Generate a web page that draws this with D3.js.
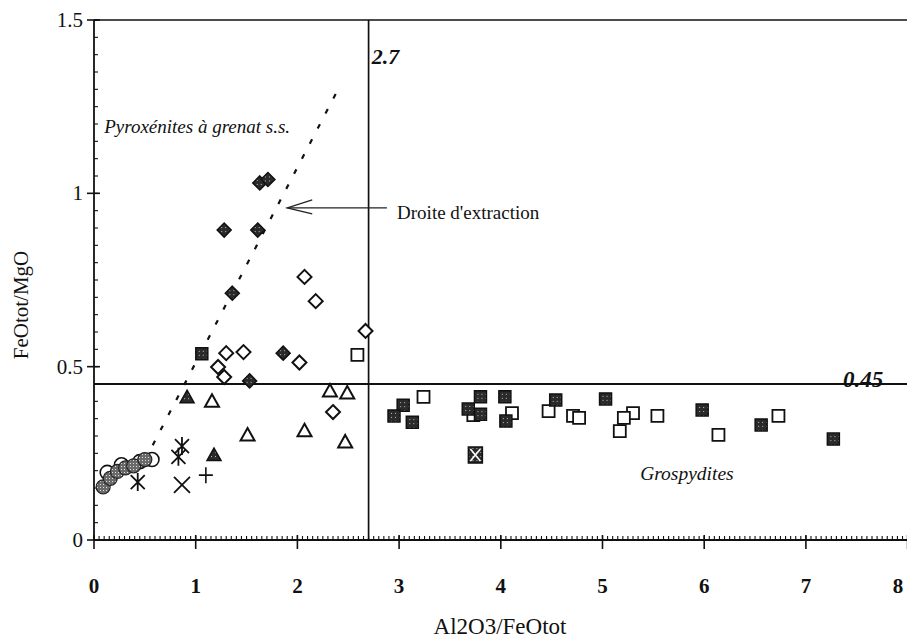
<!DOCTYPE html>
<html><head><meta charset="utf-8">
<script src="https://cdn.jsdelivr.net/npm/d3@7"></script>
<style>body{margin:0;background:#fff}svg{display:block}text{font-family:"Liberation Serif","DejaVu Serif",serif;fill:#111}</style>
</head><body><svg id="c" width="907" height="642"></svg>
<script>
// ---- data ----
const xTicks=[0,1,2,3,4,5,6,7,8];
const xTickLabels=["0","1","2","3","4","5","6","7","8"];
const yTicks=[0,0.5,1,1.5];
const yTickLabels=["0","0.5","1","1.5"];
const grayCircles=[[0.09,0.153],[0.16,0.178],[0.23,0.198],[0.31,0.208],[0.39,0.214],[0.50,0.232]];
const openCircles=[[0.13,0.195],[0.27,0.217],[0.45,0.226],[0.57,0.232]];
const asterisks=[[0.43,0.167],[0.865,0.271],[0.83,0.24]];
const crosses=[[0.865,0.159]];
const pluses=[[1.10,0.187]];
const filledTriangles=[[0.915,0.412],[1.18,0.245]];
const openTriangles=[[1.16,0.40],[1.51,0.303],[2.07,0.315],[2.32,0.43],[2.49,0.424],[2.47,0.283]];
const filledDiamonds=[[1.63,1.03],[1.71,1.04],[1.28,0.894],[1.61,0.894],[1.36,0.712],[1.86,0.539],[1.53,0.459]];
const openDiamonds=[[2.07,0.759],[2.18,0.689],[2.67,0.603],[1.30,0.539],[1.47,0.542],[1.22,0.499],[1.28,0.47],[2.02,0.512],[2.35,0.369]];
const graySquares=[[1.06,0.537]];
const openSquares=[[2.59,0.534],[3.24,0.413],[3.73,0.36],[4.11,0.366],[4.47,0.372],[4.71,0.358],[4.77,0.352],[5.30,0.366],[5.21,0.352],[5.17,0.314],[5.54,0.358],[6.14,0.303],[6.73,0.358]];
const blackSquares=[[3.04,0.389],[2.95,0.358],[3.13,0.34],[3.80,0.413],[3.68,0.378],[3.80,0.363],[4.04,0.413],[4.05,0.343],[4.54,0.404],[5.03,0.407],[5.98,0.375],[6.56,0.332],[7.27,0.291]];
const hourglassSquares=[[3.75,0.245]];
const extractionLine=[[0.5,0.23],[2.4,1.3]];
const xLimit=2.7, yLimit=0.45;
const arrowLine=[[2.88,0.958],[1.90,0.958]];
const annotations=[
  {text:"Pyroxénites à grenat s.s.",x:0.10,y:1.174,style:"italic",weight:"normal",size:19,anchor:"start"},
  {text:"Droite d'extraction",x:2.98,y:0.926,style:"normal",weight:"normal",size:19,anchor:"start"},
  {text:"Grospydites",x:5.37,y:0.173,style:"italic",weight:"normal",size:19.5,anchor:"start"},
  {text:"2.7",x:2.73,y:1.373,style:"italic",weight:"bold",size:22,anchor:"start"},
  {text:"0.45",x:7.76,y:0.441,style:"italic",weight:"bold",size:23,anchor:"end"}
];
const xTitle="Al2O3/FeOtot", yTitle="FeOtot/MgO";

// ---- chart ----
const svg=d3.select("#c");
const x=d3.scaleLinear().domain([0,8]).range([94,907.6]);
const y=d3.scaleLinear().domain([0,1.5]).range([540,20]);
const defs=svg.append("defs");
const sp=defs.append("pattern").attr("id","speck").attr("width",4).attr("height",4).attr("patternUnits","userSpaceOnUse");
sp.append("rect").attr("width",4).attr("height",4).attr("fill","#2a2a2a");
sp.append("rect").attr("x",1).attr("y",1).attr("width",1).attr("height",1).attr("fill","#bdbdbd");
const gp=defs.append("pattern").attr("id","grayDots").attr("width",3).attr("height",3).attr("patternUnits","userSpaceOnUse");
gp.append("rect").attr("width",3).attr("height",3).attr("fill","#6a6a6a");
gp.append("rect").attr("x",1).attr("y",1).attr("width",1).attr("height",1).attr("fill","#e0e0e0");

svg.append("rect").attr("width",907).attr("height",642).attr("fill","#fff");

// axes / frame
const axisG=svg.append("g").attr("stroke","#111").attr("fill","none");
axisG.append("line").attr("x1",x(0)).attr("x2",x(8)).attr("y1",y(0)).attr("y2",y(0)).attr("stroke-width",1.8);
axisG.append("line").attr("x1",x(0)).attr("x2",x(0)).attr("y1",y(0)).attr("y2",y(1.5)).attr("stroke-width",1.8);
axisG.append("line").attr("x1",x(0)).attr("x2",x(8)).attr("y1",y(1.5)).attr("y2",y(1.5)).attr("stroke-width",1.6);
// minor ticks
d3.range(0,8.0001,0.05).forEach(v=>{
  axisG.append("line").attr("x1",x(v)).attr("x2",x(v)).attr("y1",y(0)).attr("y2",y(0)-4).attr("stroke-width",1.1);
});
d3.range(0,1.5001,0.05).forEach(v=>{
  axisG.append("line").attr("x1",x(0)).attr("x2",x(0)+4).attr("y1",y(v)).attr("y2",y(v)).attr("stroke-width",1.1);
});
xTicks.forEach(v=>{
  axisG.append("line").attr("x1",x(v)).attr("x2",x(v)).attr("y1",y(0)+9).attr("y2",y(0)-5).attr("stroke-width",1.6);
});
yTicks.forEach(v=>{
  axisG.append("line").attr("x1",x(0)-7).attr("x2",x(0)+6).attr("y1",y(v)).attr("y2",y(v)).attr("stroke-width",1.6);
});
svg.append("g").selectAll("text").data(xTicks).join("text")
  .attr("x",d=>Math.min(x(d),898)).attr("y",y(0)+53).attr("text-anchor","middle")
  .attr("font-size",21).attr("font-weight","bold").text((d,i)=>xTickLabels[i]);
svg.append("g").selectAll("text").data(yTicks).join("text")
  .attr("x",x(0)-11).attr("y",d=>y(d)+7).attr("text-anchor","end")
  .attr("font-size",21).text((d,i)=>yTickLabels[i]);
svg.append("text").attr("x",500).attr("y",634).attr("text-anchor","middle").attr("font-size",23).text(xTitle);
svg.append("text").attr("transform","translate(28,305) rotate(-90)").attr("text-anchor","middle").attr("font-size",21).text(yTitle);

// reference lines
svg.append("line").attr("x1",x(xLimit)).attr("x2",x(xLimit)).attr("y1",y(0)).attr("y2",y(1.5)).attr("stroke","#111").attr("stroke-width",1.7);
svg.append("line").attr("x1",x(0)).attr("x2",x(8)).attr("y1",y(yLimit)).attr("y2",y(yLimit)).attr("stroke","#111").attr("stroke-width",1.9);
svg.append("line").attr("x1",x(extractionLine[0][0])).attr("y1",y(extractionLine[0][1]))
  .attr("x2",x(extractionLine[1][0])).attr("y2",y(extractionLine[1][1]))
  .attr("stroke","#111").attr("stroke-width",2.2).attr("stroke-dasharray","5,12");
// arrow
const ax1=x(arrowLine[0][0]), ay=y(arrowLine[0][1]), ax2=x(arrowLine[1][0]);
svg.append("line").attr("x1",ax1).attr("x2",ax2).attr("y1",ay).attr("y2",ay).attr("stroke","#222").attr("stroke-width",1.3);
svg.append("path").attr("d",`M${ax2+25},${ay-8} L${ax2},${ay} L${ax2+25},${ay+6}`).attr("fill","none").attr("stroke","#222").attr("stroke-width",1.3);

// annotations
svg.append("g").selectAll("text").data(annotations).join("text")
  .attr("x",d=>x(d.x)).attr("y",d=>y(d.y)).attr("text-anchor",d=>d.anchor)
  .attr("font-style",d=>d.style).attr("font-weight",d=>d.weight).attr("font-size",d=>d.size).text(d=>d.text);

// markers
const pts=svg.append("g");
const tri="M0,-7L7,5.5L-7,5.5Z";
const dia="M0,-7L7,0L0,7L-7,0Z";
const sq="M-6,-6H6V6H-6Z";
function draw(data,path,fill,stroke,sw){
  pts.append("g").selectAll("path").data(data).join("path")
    .attr("transform",d=>`translate(${x(d[0])},${y(d[1])})`)
    .attr("d",path).attr("fill",fill).attr("stroke",stroke).attr("stroke-width",sw);
}
// circles
pts.append("g").selectAll("circle").data(openCircles).join("circle")
  .attr("cx",d=>x(d[0])).attr("cy",d=>y(d[1])).attr("r",7).attr("fill","#fff").attr("stroke","#111").attr("stroke-width",1.6);
pts.append("g").selectAll("circle").data(grayCircles).join("circle")
  .attr("cx",d=>x(d[0])).attr("cy",d=>y(d[1])).attr("r",7).attr("fill","url(#grayDots)").attr("stroke","#222").attr("stroke-width",1.2);
draw(asterisks,"M-7,-7L7,7M7,-7L-7,7M0,-9V9","none","#111",1.8);
draw(crosses,"M-8,-8L8,8M8,-8L-8,8","none","#111",1.8);
draw(pluses,"M-7,0H7M0,-8V8","none","#111",1.6);
draw(openTriangles,tri,"#fff","#111",2);
draw(filledTriangles,tri,"url(#speck)","#111",1.5);
draw(openDiamonds,dia,"#fff","#111",2);
draw(filledDiamonds,dia,"url(#speck)","#111",1.5);
draw(openSquares,sq,"#fff","#111",1.8);
draw(graySquares,sq,"url(#speck)","#111",1.5);
draw(blackSquares,sq,"url(#speck)","#111",1.5);
draw(hourglassSquares,"M-7,-8H7V8H-7Z","url(#speck)","#111",1.5);
draw(hourglassSquares,"M-5,-6L5,6M5,-6L-5,6","none","#fff",1.6);
</script></body></html>
